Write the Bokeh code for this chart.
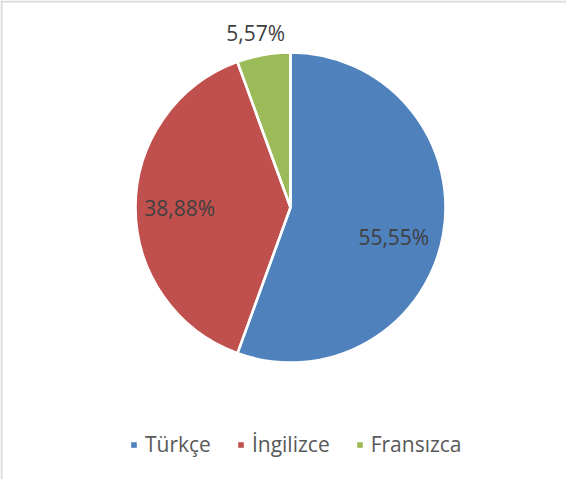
import math
from bokeh.plotting import figure
from bokeh.models import ColumnDataSource, Range1d, Legend, LegendItem, Span, LabelSet
from bokeh.core.properties import value
from bokeh.embed import file_html
from bokeh.resources import INLINE

# ---- data ----
languages = ["Türkçe", "İngilizce", "Fransızca"]
shares = [55.55, 38.88, 5.57]
label_texts = ["55,55%", "38,88%", "5,57%"]
colors = ["#4f81bd", "#c0504d", "#9bbb59"]

W, H = 566, 479
p = figure(width=W, height=H, output_backend="svg", toolbar_location=None,
           x_range=Range1d(8, 8 + W), y_range=Range1d(-(8 + H), -8),
           min_border=0, outline_line_color=None)
p.axis.visible = False
p.grid.visible = False
p.background_fill_color = "white"

cx, cy, r = 298, -215, 155
total = sum(shares)
starts, ends, mids = [], [], []
acc = 0.0
for s in shares:
    a0 = math.pi / 2 - 2 * math.pi * acc / total
    acc += s
    a1 = math.pi / 2 - 2 * math.pi * acc / total
    starts.append(a0)
    ends.append(a1)
    mids.append((a0 + a1) / 2)

src = ColumnDataSource(dict(x=[cx] * 3, y=[cy] * 3, start=starts, end=ends,
                            color=colors, lang=languages))
# filled slices (also used for the legend swatches)
fill_r = p.wedge(x="x", y="y", radius=r, start_angle="start", end_angle="end",
                 direction="clock", fill_color="color", line_color=None, source=src)
# white separators on top
p.wedge(x="x", y="y", radius=r, start_angle="start", end_angle="end",
        direction="clock", fill_color=None, line_color="white",
        line_width=2.5, source=src)

label_r = [0.69, 0.715, 1.14]
lx = [cx + f * r * math.cos(m) for f, m in zip(label_r, mids)]
ly = [cy + f * r * math.sin(m) for f, m in zip(label_r, mids)]
lsrc = ColumnDataSource(dict(x=lx, y=ly, t=label_texts,
                             xo=[-2, 0, -4], yo=[-11, 0, 0]))
p.add_layout(LabelSet(x="x", y="y", text="t", source=lsrc, x_offset="xo", y_offset="yo",
                      text_align="center", text_baseline="middle",
                      text_font=value("Open Sans"),
                      text_font_size="21px", text_color="#404040"))

items = [LegendItem(label=lang, renderers=[fill_r], index=i) for i, lang in enumerate(languages)]
legend = Legend(items=items, orientation="horizontal", location=(130, 21),
                glyph_width=7, glyph_height=7, label_standoff=8, spacing=26,
                label_text_font="Open Sans", label_text_font_size="21px",
                label_text_color="#595959", border_line_color=None,
                background_fill_alpha=0, padding=0, margin=0)
p.add_layout(legend, "center")

p.add_layout(Span(location=9, dimension="height", line_color="#d9d9d9", line_width=2))
p.add_layout(Span(location=-9, dimension="width", line_color="#d9d9d9", line_width=2))

open("out.html", "w").write(file_html(p, INLINE))
